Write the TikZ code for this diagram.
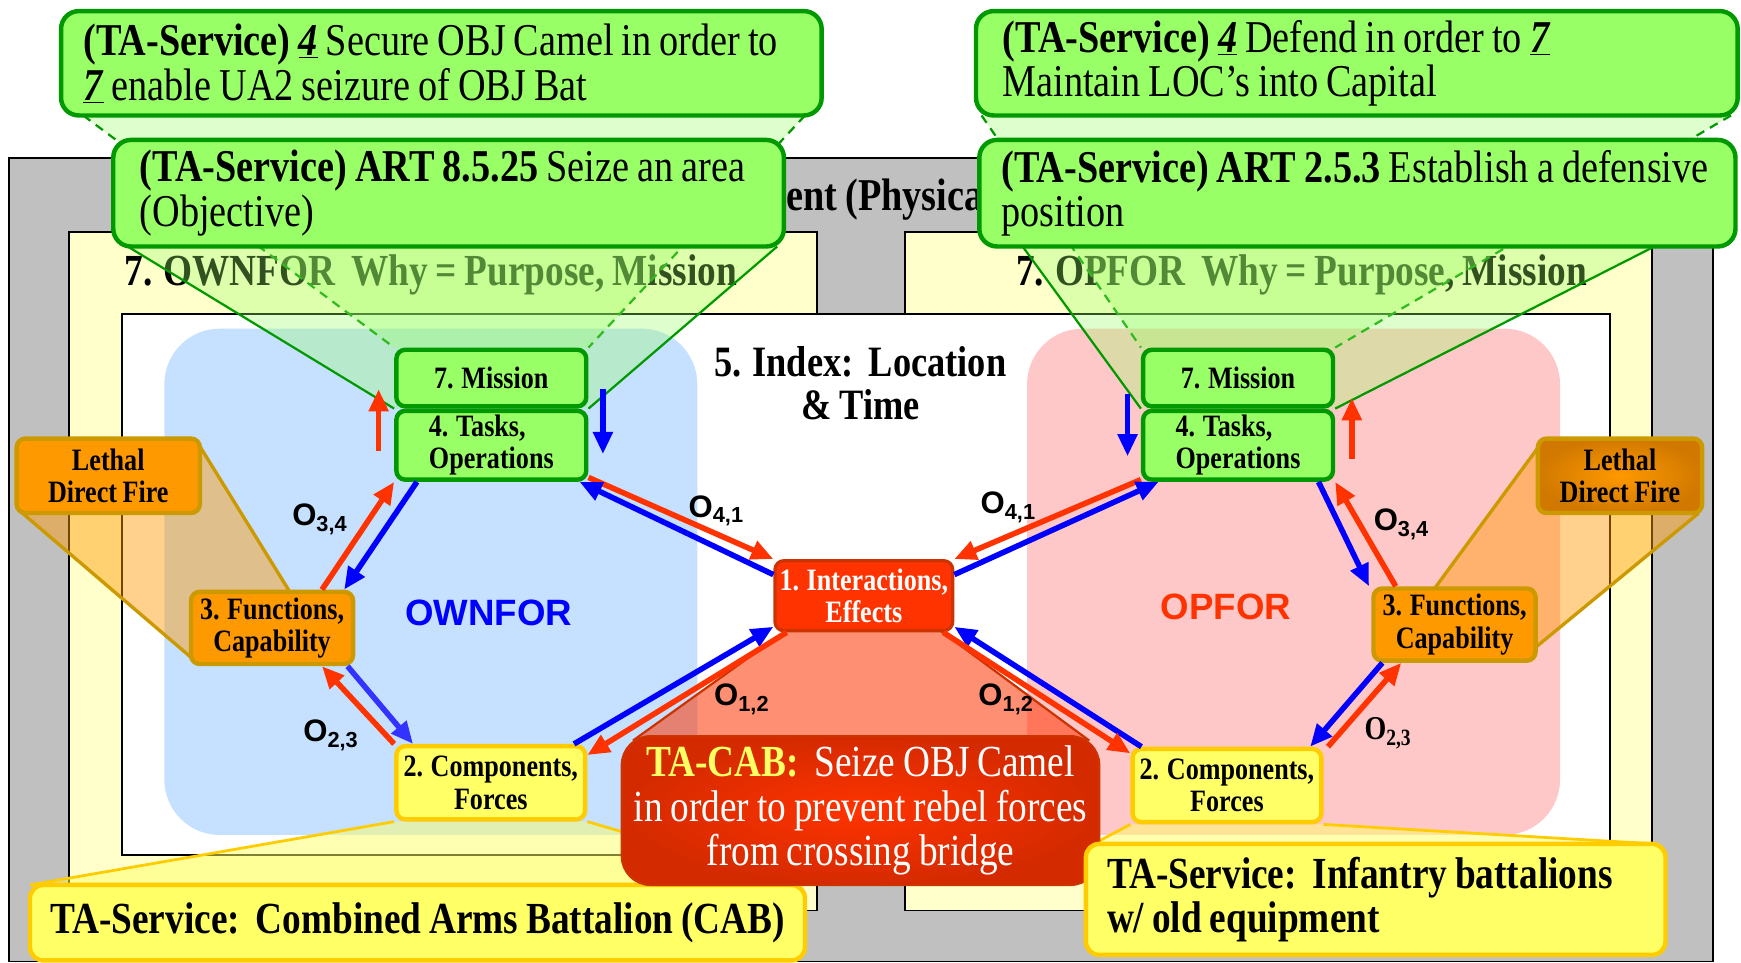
\documentclass[tikz,border=0pt]{standalone}
\usepackage{fontspec}
\setmainfont{Liberation Serif}[FakeStretch=0.84, WordSpace=0.84]
\setsansfont{Liberation Sans}
\usetikzlibrary{arrows.meta,positioning,calc}

\definecolor{frameGray}{HTML}{C0C0C0}
\definecolor{paleYellow}{HTML}{FFFFCC}
\definecolor{ownBlue}{HTML}{C6E0FF}
\definecolor{opPink}{HTML}{FFC8C8}
\definecolor{limeFill}{HTML}{99FF66}
\definecolor{limeEdge}{HTML}{009900}
\definecolor{amberFill}{HTML}{FF9900}
\definecolor{amberDeep}{HTML}{D07800}
\definecolor{amberEdge}{HTML}{CC9900}
\definecolor{lemonFill}{HTML}{FFFF66}
\definecolor{lemonEdge}{HTML}{FFCC00}
\definecolor{fireRed}{HTML}{FF3300}
\definecolor{fireDeep}{HTML}{D42A00}
\definecolor{fireEdge}{HTML}{CC3300}
\definecolor{flowBlue}{HTML}{0000FF}
\definecolor{softBlue}{HTML}{3333FF}

\pgfdeclarelayer{frames}
\pgfdeclarelayer{wedges}
\pgfsetlayers{frames,wedges,main}

\begin{document}
\begin{tikzpicture}[x=1pt, y=-1pt,
    plainspace/.style={execute at begin node={\spaceskip=0pt\xspaceskip=0pt}},
    callout/.style={rectangle, rounded corners=16pt, draw=limeEdge, line width=4pt, fill=limeFill, align=left, inner xsep=20pt, inner ysep=0pt, plainspace, font=\fontsize{41}{40}\selectfont},
    stagebox/.style={rectangle, rounded corners=8pt, line width=4pt, inner sep=0pt, align=center, font=\bfseries\fontsize{28}{29}\selectfont},
    missionbox/.style={stagebox, draw=limeEdge, fill=limeFill, minimum width=171pt},
    capbox/.style={stagebox, draw=amberEdge, fill=amberFill, minimum width=146pt, minimum height=65pt},
    forcebox/.style={stagebox, draw=lemonEdge, fill=lemonFill, minimum width=170pt, minimum height=66pt},
    firebox/.style={stagebox, draw=amberEdge, minimum height=67pt},
    notebox/.style={rectangle, rounded corners=12pt, draw=lemonEdge, fill=lemonFill, line width=4pt, inner sep=0pt, plainspace, font=\bfseries\fontsize{40}{40}\selectfont},
    cabbox/.style={rectangle, rounded corners=26pt, draw=fireEdge, line width=2pt, inner color=fireRed, outer color=fireDeep, text=white, align=center, inner sep=0pt, font=\fontsize{40}{40}\selectfont},
    framelabel/.style={anchor=west, inner sep=0pt, font=\bfseries\fontsize{40}{40}\selectfont},
    sidename/.style={inner sep=0pt, font=\sffamily\bfseries\fontsize{33}{33}\selectfont},
    olabel/.style={inner sep=0pt, font=\sffamily\bfseries\fontsize{28}{28}\selectfont},
    redflow/.style={draw=fireRed, line width=5pt, -{Triangle[length=20pt, width=17pt]}},
    blueflow/.style={redflow, draw=flowBlue},
    limewedge/.style={fill=limeFill, fill opacity=0.32},
    limeside/.style={draw=limeEdge, line width=2pt},
]
\useasboundingbox (0,0) rectangle (1568,867);

% Environment frames
\begin{pgfonlayer}{frames}
\fill[white] (0,0) rectangle (1568,867);
\draw[fill=frameGray, line width=1.5pt] (8,142) rectangle (1543,866);
\node[anchor=west, inner sep=0pt, font=\bfseries\fontsize{41}{40}\selectfont] (envTitle) at (708,180) {ent (Physical};
\draw[fill=paleYellow, line width=1.5pt] (62,209) rectangle (736,820);
\draw[fill=paleYellow, line width=1.5pt] (815,209) rectangle (1488,820);
\node[framelabel] (ownWhy) at (112,248) {7. OWNFOR\ \ Why = Purpose, Mission};
\node[framelabel] (opWhy) at (915,248) {7. OPFOR\ \ Why = Purpose, Mission};
\draw[fill=white, line width=1.5pt] (110,283) rectangle (1450,770);
\fill[ownBlue, rounded corners=50pt] (148,296) rectangle (628,752);
\fill[opPink, rounded corners=50pt] (925,296) rectangle (1405,752);
\node[sidename, text=flowBlue] (ownName) at (440,552) {OWNFOR};
\node[sidename, text=fireRed] (opName) at (1104,547) {OPFOR};
\node[align=center, inner sep=0pt, font=\bfseries\fontsize{39}{39}\selectfont] (index) at (775,345) {5. Index:\ \ Location\\\& Time};
\end{pgfonlayer}

% Purpose call-outs
\node[callout, text width=645pt, minimum height=94pt] (ownPurpose) at (397.5,57) {\textbf{(TA-Service)} \underline{\textbf{\textit{4}}} Secure OBJ Camel in order to\\\underline{\textbf{\textit{7}}} enable UA2 seizure of OBJ Bat};
\node[callout, inner xsep=24pt, text width=556pt, minimum height=96pt] (ownArt) at (404,174) {\textbf{(TA-Service) ART 8.5.25} Seize an area\\(Objective)};
\node[callout, inner xsep=24pt, text width=638pt, minimum height=94pt] (opPurpose) at (1222,57) {\textbf{(TA-Service)} \underline{\textbf{\textit{4}}} Defend in order to \underline{\textbf{\textit{7}}}\\Maintain LOC’s into Capital};
\node[callout, text width=641pt, minimum height=96pt] (opArt) at (1222.5,174) {\textbf{(TA-Service) ART 2.5.3} Establish a defensive\\position};

% OWNFOR stages
\node[missionbox, minimum height=51pt] (msnL) at (442.5,340.5) {7. Mission};
\node[missionbox, minimum height=62pt, align=left, below=0pt of msnL] (tskL) {4. Tasks,\\Operations};
\node[capbox] (fncL) at (245,565.5) {3. Functions,\\Capability};
\node[forcebox] (cmpL) at (442,705) {2. Components,\\Forces};
\node[firebox, fill=amberFill, minimum width=165pt] (lthL) at (97.5,428.5) {Lethal\\Direct Fire};

% OPFOR stages
\node[missionbox, minimum height=51pt] (msnR) at (1115,340.5) {7. Mission};
\node[missionbox, minimum height=62pt, align=left, below=0pt of msnR] (tskR) {4. Tasks,\\Operations};
\node[capbox] (fncR) at (1310,562.5) {3. Functions,\\Capability};
\node[forcebox] (cmpR) at (1105,707.5) {2. Components,\\Forces};
\node[firebox, inner color=amberFill, outer color=amberDeep, minimum width=148pt] (lthR) at (1459,428.5) {Lethal\\Direct Fire};

% Shared interaction
\node[stagebox, draw=fireEdge, fill=fireRed, text=white, line width=3pt, minimum width=160pt, minimum height=63pt] (ieff) at (778,536.5) {1. Interactions,\\Effects};

% Force call-outs
\node[notebox, minimum width=698pt, minimum height=68pt] (ownForce) at (376,831) {TA-Service:\ \ Combined Arms Battalion (CAB)};
\node[cabbox, minimum width=430pt, minimum height=134pt] (cabTask) at (775,730) {\textcolor{lemonFill}{\textbf{TA-CAB:}}\ \ Seize OBJ Camel\\in order to prevent rebel forces\\from crossing bridge};
\node[notebox, align=left, inner xsep=19pt, text width=484pt, minimum height=100pt] (opForce) at (1239,810) {TA-Service:\ \ Infantry battalions\\w/ old equipment};

% Call-out wedges
\begin{pgfonlayer}{wedges}
\fill[limewedge] (75,104) -- (725,104) -- (msnL.north east) -- (msnL.north west) -- cycle;
\draw[limeside, dash pattern=on 8pt off 6pt] (75,104) -- (msnL.north west) (725,104) -- (msnL.north east);
\fill[limewedge] (115,222) -- (700,222) -- (tskL.north east) -- (tskL.north west) -- cycle;
\draw[limeside] (115,222) -- (tskL.north west) (700,222) -- (tskL.north east);
\fill[limewedge] (884,104) -- (1559,104) -- (msnR.north east) -- (msnR.north west) -- cycle;
\draw[limeside, dash pattern=on 8pt off 6pt] (884,104) -- (msnR.north west) (1559,104) -- (msnR.north east);
\fill[limewedge] (921,222) -- (1490,222) -- (tskR.north east) -- (tskR.north west) -- cycle;
\draw[limeside] (921,222) -- (tskR.north west) (1490,222) -- (tskR.north east);
\fill[amberFill, fill opacity=0.45] (180,402) -- (261,533) -- (172,592) -- (20,462) -- cycle;
\draw[amberEdge, line width=3pt] (180,402) -- (261,533) (20,462) -- (172,592);
\fill[amberFill, fill opacity=0.45] (1386,402) -- (1530,462) -- (1383,583) -- (1292,530) -- cycle;
\draw[amberEdge, line width=3pt] (1386,402) -- (1292,530) (1530,462) -- (1383,583);
\fill[fireRed, fill opacity=0.55] (708,568) -- (847,568) -- (981,667) -- (570,667) -- cycle;
\draw[fireEdge, line width=2pt] (708,568) -- (570,667) (847,568) -- (981,667);
\fill[lemonFill, fill opacity=0.5] (cmpL.south west) -- (cmpL.south east) -- (725,797) -- (27,797) -- cycle;
\draw[lemonEdge, line width=2.5pt] (cmpL.south west) -- (27,797) (cmpL.south east) -- (725,797);
\fill[lemonFill, fill opacity=0.5] (cmpR.south west) -- (cmpR.south east) -- (1490,760) -- (985,760) -- cycle;
\draw[lemonEdge, line width=2.5pt] (cmpR.south west) -- (985,760) (cmpR.south east) -- (1490,760);
\end{pgfonlayer}

% OWNFOR flows
\draw[redflow] ([xshift=45pt]fncL.north) -- (tskL.south west);
\draw[blueflow] ([xshift=-67pt]tskL.south) -- ([xshift=65pt]fncL.north);
\draw[redflow] (cmpL.north west) -- ([xshift=45pt]fncL.south);
\draw[blueflow, draw=softBlue] ([xshift=68pt]fncL.south) -- ([xshift=-70pt]cmpL.north);
\draw[redflow] ([yshift=4pt]tskL.south east) -- (ieff.north west);
\draw[blueflow] ([yshift=-14pt]ieff.north west) -- ([xshift=-8pt]tskL.south east);
\draw[blueflow] ([xshift=-12pt]cmpL.north east) -- ([yshift=5pt]ieff.south west);
\draw[redflow] ([xshift=12pt]ieff.south west) -- ([yshift=-10pt]cmpL.north east);
\draw[redflow] ([xshift=-14pt,yshift=-5pt]tskL.west) -- ([xshift=-14pt,yshift=-10pt]msnL.west);
\draw[blueflow] ([xshift=13pt,yshift=-10pt]msnL.east) -- ([xshift=13pt,yshift=-8pt]tskL.east);

% OPFOR flows
\draw[redflow] ([yshift=2pt]tskR.south west) -- (ieff.north east);
\draw[blueflow] ([yshift=-14pt]ieff.north east) -- ([xshift=16pt]tskR.south west);
\draw[blueflow] ([xshift=10pt]cmpR.north west) -- ([yshift=5pt]ieff.south east);
\draw[redflow] ([xshift=-10pt]ieff.south east) -- ([yshift=-6pt]cmpR.north west);
\draw[blueflow] ([xshift=-15pt]tskR.south east) -- ([xshift=-77pt]fncR.north);
\draw[redflow] ([xshift=-53pt]fncR.north) -- (tskR.south east);
\draw[blueflow] ([xshift=-65pt]fncR.south) -- ([xshift=75pt]cmpR.north);
\draw[redflow] ([xshift=4pt]cmpR.north east) -- ([xshift=-48pt]fncR.south);
\draw[blueflow] ([xshift=-12pt,yshift=-14pt]msnR.west) -- ([xshift=-12pt,yshift=-10pt]tskR.west);
\draw[redflow] ([xshift=15pt,yshift=-12pt]tskR.east) -- ([xshift=15pt,yshift=-18pt]msnR.east);

% Link labels
\node[olabel] (o34L) at (288,468) {O\textsubscript{3,4}};
\node[olabel] (o23L) at (298,662) {O\textsubscript{2,3}};
\node[olabel] (o41L) at (645,460) {O\textsubscript{4,1}};
\node[olabel] (o12L) at (668,630) {O\textsubscript{1,2}};
\node[olabel] (o41R) at (908,457) {O\textsubscript{4,1}};
\node[olabel] (o12R) at (906,630) {O\textsubscript{1,2}};
\node[olabel] (o34R) at (1262,472) {O\textsubscript{3,4}};
\node[olabel, font=\bfseries\fontsize{30}{30}\selectfont] (o23R) at (1250,660) {O\textsubscript{2,3}};

\end{tikzpicture}
\end{document}
